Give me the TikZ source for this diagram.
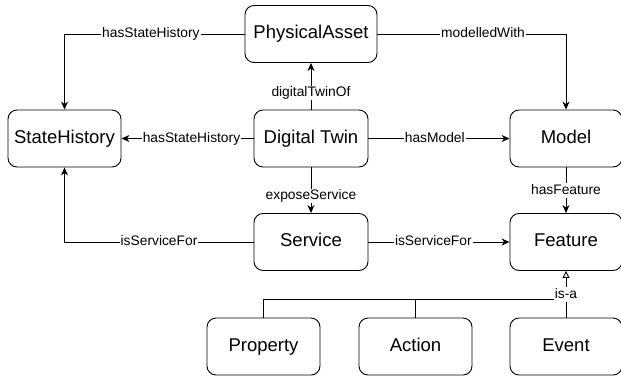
\documentclass[tikz,border=0pt]{standalone}
\usepackage{fontspec}
\setmainfont{Liberation Sans}
\usetikzlibrary{arrows.meta}
\begin{document}
\begin{tikzpicture}[x=1pt,y=-1pt,
  box/.style={draw, line width=0.9pt, rounded corners=9pt, minimum height=57pt, inner sep=0pt, text height=13pt, text depth=3.5pt, font=\fontsize{18.5}{22}\selectfont},
  conn/.style={draw, line width=0.9pt, -{Stealth[length=8pt,width=7pt,inset=2.5pt]}},
  isa/.style={draw, line width=0.9pt, -{Triangle[open,length=7pt,width=7pt]}},
  lbl/.style={fill=white, inner sep=1pt, text height=10pt, text depth=2.5pt, font=\fontsize{13.8}{16}\selectfont}]
\useasboundingbox (0,0) rectangle (621,376);
\node[box, minimum width=132pt] (pa) at (311,34) {PhysicalAsset};
\node[box, minimum width=113pt] (sh) at (64.5,138.5) {StateHistory};
\node[box, minimum width=114pt] (dt) at (311,138.5) {Digital Twin};
\node[box, minimum width=112pt] (model) at (566,138.5) {Model};
\node[box, minimum width=114pt] (svc) at (311,242) {Service};
\node[box, minimum width=112pt] (feat) at (566,242) {Feature};
\node[box, minimum width=113pt] (prop) at (263.5,346.5) {Property};
\node[box, minimum width=113pt] (act) at (415.5,346.5) {Action};
\node[box, minimum width=112pt] (evt) at (566,346.5) {Event};
\coordinate (j) at (566,299);
% edges
\draw[conn] (pa.west) -| node[lbl, pos=0.26] {hasStateHistory} (sh.north);
\draw[conn] (pa.east) -| node[lbl, pos=0.28] {modelledWith} (model.north);
\draw[conn] (dt.north) -- node[lbl, pos=0.36] {digitalTwinOf} (pa.south);
\draw[conn] (dt.west) -- node[lbl, pos=0.47] {hasStateHistory} (sh.east);
\draw[conn] (dt.east) -- node[lbl, pos=0.47] {hasModel} (model.west);
\draw[conn] (model.south) -- node[lbl, pos=0.5] {hasFeature} (feat.north);
\draw[conn] (dt.south) -- node[lbl, pos=0.63] {exposeService} (svc.north);
\draw[conn] (svc.west) -| node[lbl, pos=0.25] {isServiceFor} (sh.south);
\draw[conn] (svc.east) -- node[lbl, pos=0.46] {isServiceFor} (feat.west);
\draw[line width=0.9pt] (prop.north) |- (j);
\draw[line width=0.9pt] (act.north) -- (act.north |- j);
\draw[isa] (evt.north) -- node[lbl, pos=0.49] {is-a} (feat.south);
\end{tikzpicture}
\end{document}
